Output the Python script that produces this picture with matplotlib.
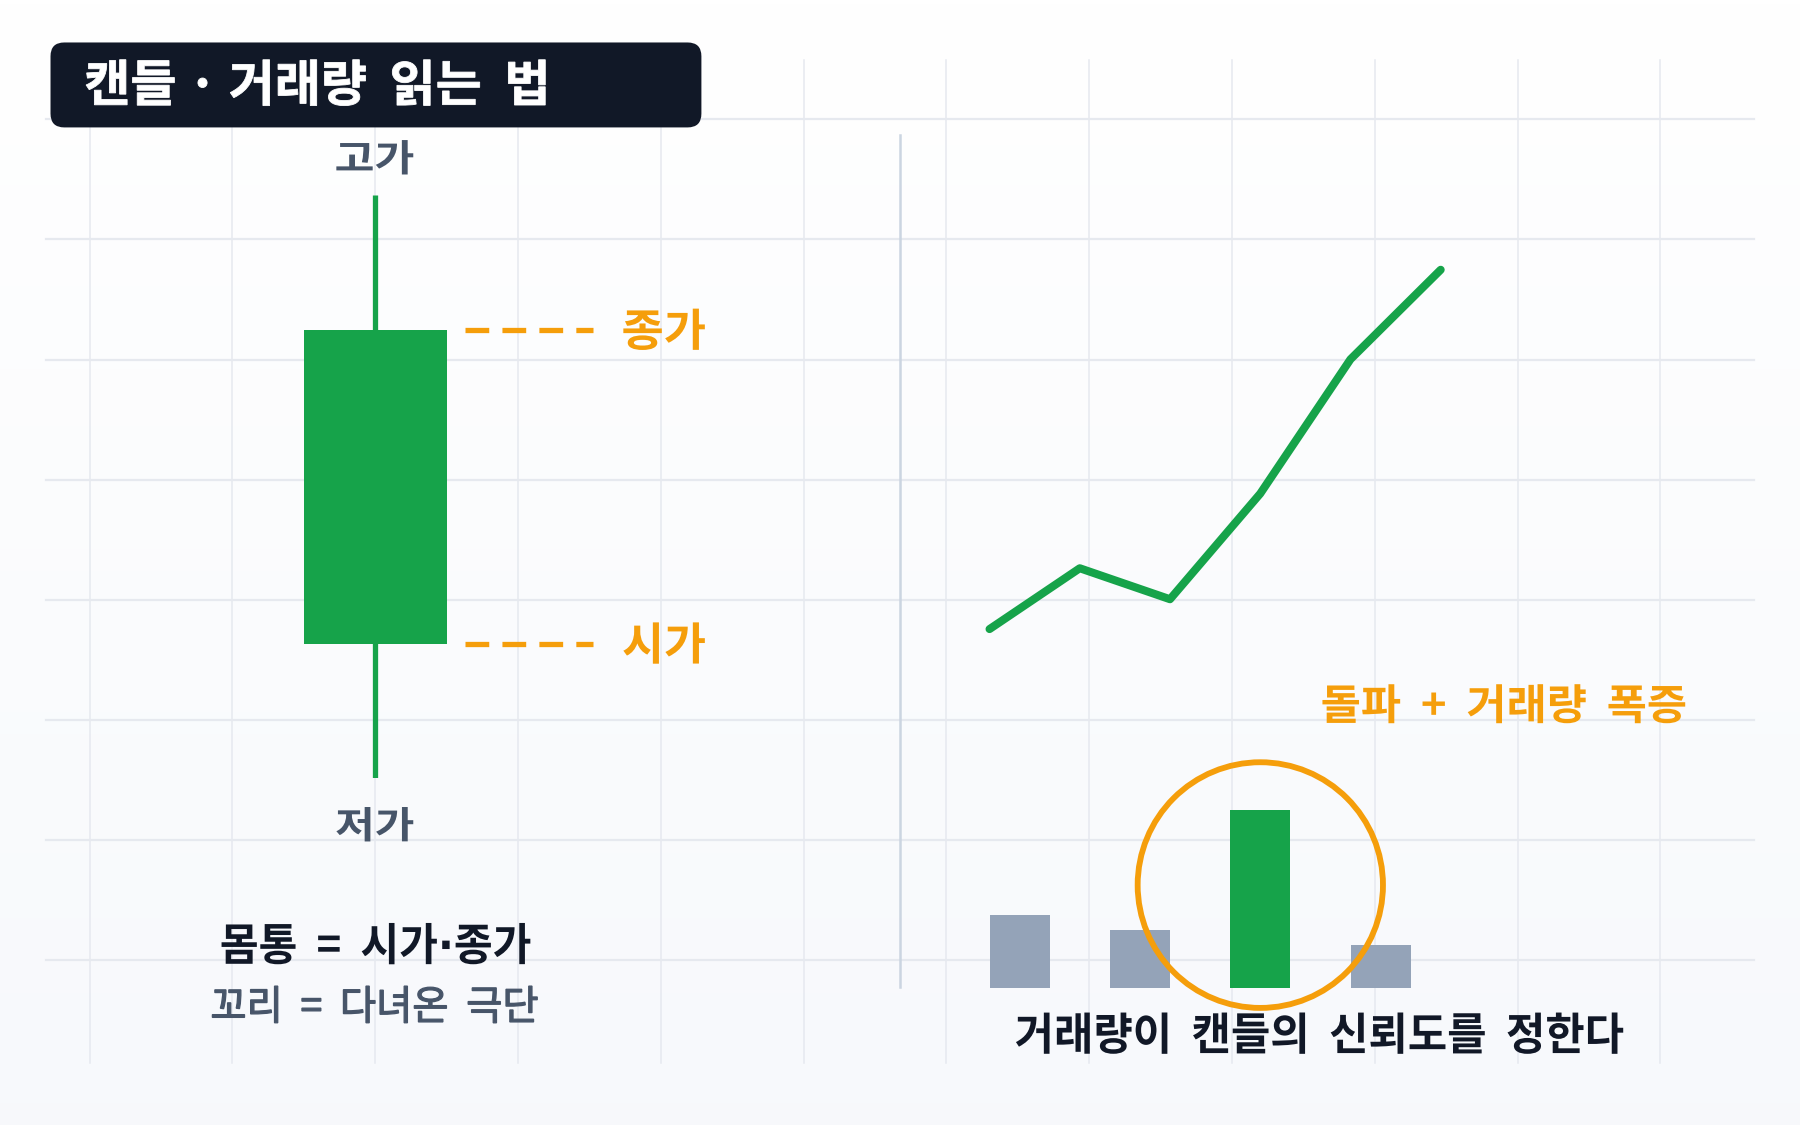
import matplotlib
matplotlib.use("Agg")
import matplotlib.pyplot as plt
import numpy as np
from matplotlib.patches import FancyBboxPatch, Ellipse, PathPatch
from matplotlib.path import Path
from matplotlib.textpath import TextPath, text_to_path
from matplotlib.font_manager import FontProperties
from matplotlib.transforms import Affine2D

plt.rcParams["font.family"] = ["Noto Sans CJK KR", "DejaVu Sans"]

# layout canvas (same aspect as the 1800x1125 output)
W, H = 1568, 980

# left: one bullish candle (price units)
CANDLE_OPEN = 61.5
CANDLE_CLOSE = 88.4
CANDLE_HIGH = 100.0
CANDLE_LOW = 50.0

# right: price path and volume bars
PRICE_X = [0, 1, 2, 3, 4, 5]
PRICE = [5.2, 10.5, 7.8, 17.0, 28.7, 36.5]
VOL_X = [0, 1, 2, 3]
VOLUME = [64, 51, 155, 38]
SPIKE_IDX = 2

GREEN = "#16a34a"
ORANGE = "#f59e0b"
SLATE = "#475569"
INK = "#111827"
BAR_GRAY = "#94a3b8"
GRID = "#e6e9ef"

BOLD = FontProperties(family="Noto Sans CJK KR", weight="bold", size=10)
REG = FontProperties(family="Noto Sans CJK KR", weight="normal", size=10)
DOT = FontProperties(family="DejaVu Sans", weight="bold", size=10)


def canvas_axes(fig, x0, y0, x1, y1):
    """Axes placed by canvas coords (y measured from the top)."""
    ax = fig.add_axes([x0 / W, 1 - y1 / H, (x1 - x0) / W, (y1 - y0) / H])
    ax.set_axis_off()
    ax.patch.set_alpha(0)
    return ax


def label(ax, parts, x0, x1, yc, h, color, edge=0.0):
    """Text outline fitted to x0..x1 with ink height h, centred on yc.
    parts: str, or list of (str, FontProperties) segments."""
    if isinstance(parts, str):
        parts = [(parts, BOLD)]
    paths, x = [], 0.0
    for s, prop in parts:
        paths.append(TextPath((x, 0), s, size=10, prop=prop))
        x += text_to_path.get_text_width_height_descent(s, prop, ismath=False)[0]
    path = Path.make_compound_path(*paths)
    bb = path.get_extents()
    tr = (Affine2D().translate(-bb.x0, -(bb.y0 + bb.y1) / 2)
          .scale((x1 - x0) / bb.width, -h / bb.height)
          .translate(x0, yc))
    ax.add_patch(PathPatch(tr.transform_path(path), fc=color,
                           ec=color if edge else "none", lw=edge, zorder=4))


fig = plt.figure(figsize=(18, 11.25), dpi=100)

# background canvas
bg = fig.add_axes([0, 0, 1, 1])
bg.set_xlim(0, W)
bg.set_ylim(H, 0)
bg.set_axis_off()
grad = np.linspace(0, 1, 256)[:, None]
top = np.array([1.0, 1.0, 1.0])
bot = np.array([0.969, 0.976, 0.988])
img = top[None, None, :] * (1 - grad[..., None]) + bot[None, None, :] * grad[..., None]
bg.imshow(img, extent=[0, W, H, 0], aspect="auto", zorder=0)

for x in 78 + 124.4 * np.arange(12):
    bg.plot([x, x], [52, 926], color=GRID, lw=1.1, zorder=1)
for y in 104 + 104.6 * np.arange(8):
    bg.plot([40, 1528], [y, y], color=GRID, lw=1.6, zorder=1)

# title box
bg.add_patch(FancyBboxPatch((44, 37), 567, 74, boxstyle="round,pad=0,rounding_size=12",
                            fc=INK, ec="none", zorder=3))
label(bg, "캔들 · 거래량  읽는  법", 75, 475, 72, 40, "white", edge=0.6)

# divider
bg.plot([784, 784], [118, 860], color="#cbd5e1", lw=1.8, zorder=2)

# captions
label(bg, [("몸통  =  시가", BOLD), ("·", DOT), ("종가", BOLD)], 193, 462, 822, 36, INK)
label(bg, [("꼬리  =  다녀온  극단", REG)], 185, 468, 875, 32, SLATE, edge=0.9)
label(bg, "돌파  +  거래량  폭증", 1152, 1468, 613, 34, ORANGE)
label(bg, "거래량이  캔들의  신뢰도를  정한다", 885, 1414, 900, 36, INK)

# candle high / low labels
label(bg, "고가", 293, 360, 137, 30, SLATE)
label(bg, "저가", 293, 360, 718, 30, SLATE)

# ---- candle ----
CY0, CY1 = 170, 678  # canvas span of high..low
ax_c = canvas_axes(fig, 77, CY0, 577, CY1)
ax_c.set_xlim(-2, 2)
ax_c.set_ylim(CANDLE_LOW, CANDLE_HIGH)
ax_c.vlines(0, CANDLE_LOW, CANDLE_HIGH, color=GREEN, lw=3.8, zorder=2)
ax_c.bar(0, CANDLE_CLOSE - CANDLE_OPEN, bottom=CANDLE_OPEN, width=1.0,
         color=GREEN, zorder=3)
for val, name in [(CANDLE_CLOSE, "종가"), (CANDLE_OPEN, "시가")]:
    ax_c.hlines(val, 0.624, 1.52, color=ORANGE, lw=3.8,
                linestyles=(0, (4.5, 2.5)), zorder=3)
    yc = CY0 + (CANDLE_HIGH - val) / (CANDLE_HIGH - CANDLE_LOW) * (CY1 - CY0)
    label(bg, name, 543, 614, yc - 1, 36, ORANGE)

# ---- price line ----
ax_l = canvas_axes(fig, 862, 200, 1255, 600)
ax_l.set_xlim(0, 5)
ax_l.set_ylim(0, 40)
ax_l.plot(PRICE_X, PRICE, color=GREEN, lw=5.8, solid_capstyle="round",
          solid_joinstyle="round", clip_on=False)

# ---- volume ----
ax_v = canvas_axes(fig, 836, 661, 1255, 861)
ax_v.set_xlim(-0.5, 3.5)
ax_v.set_ylim(0, 200)
colors = [GREEN if i == SPIKE_IDX else BAR_GRAY for i in range(len(VOLUME))]
ax_v.bar(VOL_X, VOLUME, width=0.5, color=colors, zorder=2, clip_on=False)
ax_v.add_patch(Ellipse((VOL_X[SPIKE_IDX], 90), 2.04, 214, fill=False, ec=ORANGE,
                       lw=4.2, zorder=3, clip_on=False))

fig.savefig("out.png", dpi=100)
